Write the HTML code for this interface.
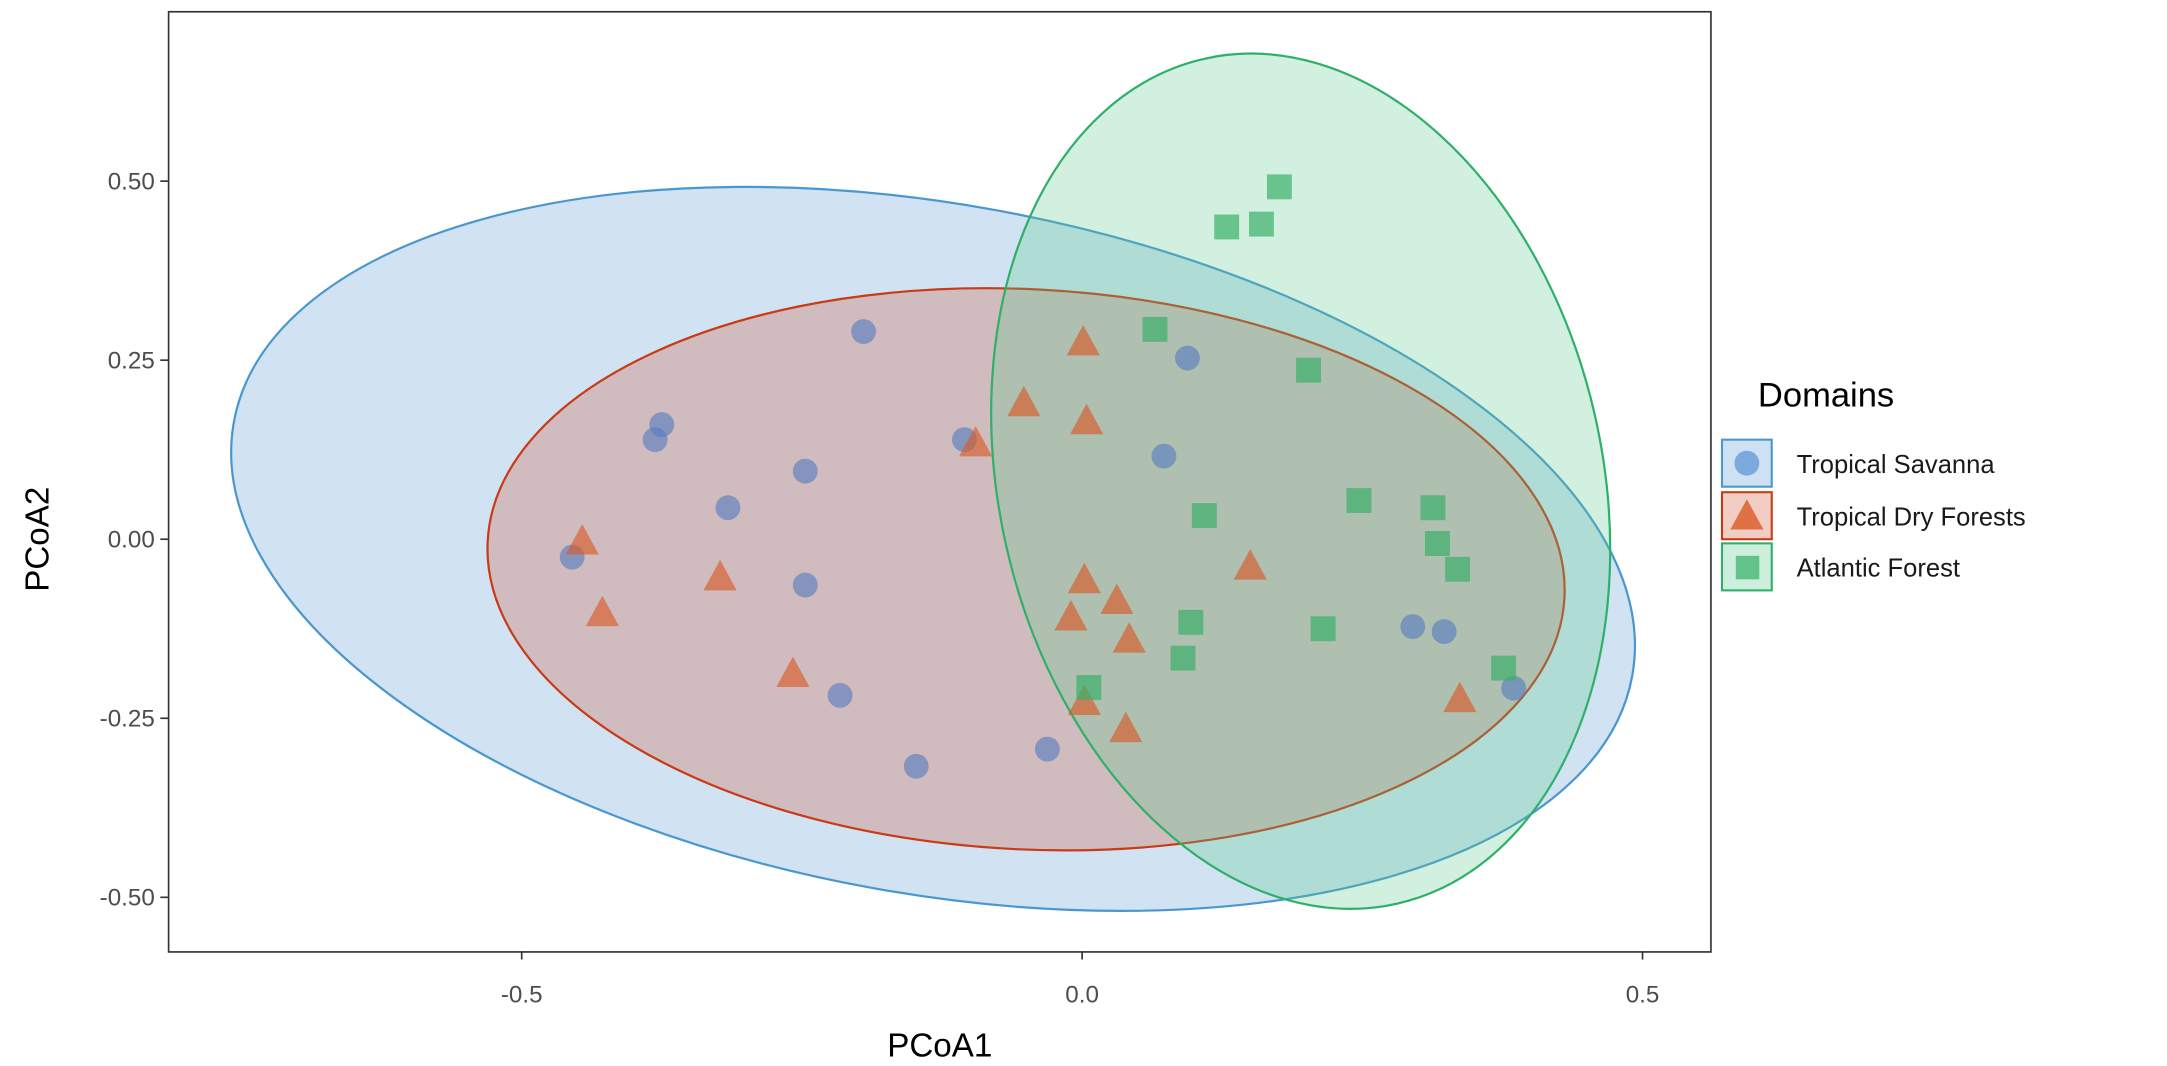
<!DOCTYPE html>
<html><head><meta charset="utf-8"><style>
html,body{margin:0;padding:0;background:#fff;}
svg{display:block;}
text{font-family:"Liberation Sans",Arial,sans-serif;}
</style></head><body>
<svg id="chart" width="2167" height="1066" viewBox="0 0 1568 771" preserveAspectRatio="none" xmlns="http://www.w3.org/2000/svg">
<rect width="1568" height="771" fill="#fff"/>
<g id="plot"></g>
<g id="axes"></g>
<g id="legend">
<text x="1272" y="294" font-size="25" fill="#000">Domains</text>
<g>
<rect x="1246" y="318" width="36" height="34" fill="rgba(91,155,213,0.3)" stroke="#4a97cf" stroke-width="1.5"/>
<circle cx="1264" cy="335" r="9" fill="rgba(80,140,210,0.65)"/>
<text x="1300" y="342" font-size="18.5" fill="#1a1a1a">Tropical Savanna</text></g>
<g>
<rect x="1246" y="356" width="36" height="34" fill="rgba(210,90,60,0.3)" stroke="#c93a15" stroke-width="1.5"/>
<polygon points="1264,361 1276,383 1252,383" fill="rgba(220,90,40,0.8)"/>
<text x="1300" y="380" font-size="18.5" fill="#1a1a1a">Tropical Dry Forests</text></g>
<g>
<rect x="1246" y="393" width="36" height="34" fill="rgba(90,200,140,0.3)" stroke="#2fb06a" stroke-width="1.5"/>
<rect x="1256" y="402" width="17" height="17" fill="rgba(60,180,110,0.75)"/>
<text x="1300" y="417" font-size="18.5" fill="#1a1a1a">Atlantic Forest</text></g>
</g>
</svg>
<script>
const savannaX=[-0.455,-0.381,-0.375,-0.316,-0.247,-0.247,-0.216,-0.195,-0.148,-0.105,-0.031,0.073,0.094,0.295,0.323,0.385];
const savannaY=[-0.025,0.139,0.160,0.044,0.095,-0.064,-0.218,0.290,-0.317,0.139,-0.293,0.116,0.253,-0.122,-0.129,-0.208];
const dryX=[-0.446,-0.428,-0.323,-0.258,-0.095,-0.052,0.001,0.004,0.002,-0.010,0.002,0.031,0.042,0.039,0.150,0.337];
const dryY=[-0.004,-0.104,-0.054,-0.189,0.133,0.189,0.274,0.164,-0.058,-0.110,-0.228,-0.087,-0.141,-0.266,-0.039,-0.224];
const atlX=[0.176,0.160,0.129,0.065,0.202,0.109,0.247,0.313,0.317,0.335,0.097,0.215,0.090,0.006,0.376];
const atlY=[0.492,0.440,0.436,0.293,0.236,0.033,0.054,0.044,-0.006,-0.042,-0.116,-0.125,-0.166,-0.207,-0.180];
const xTicks=[-0.5,0.0,0.5];
const xTickLabels=["-0.5","0.0","0.5"];
const yTicks=[0.5,0.25,0,-0.25,-0.5];
const yTickLabels=["0.50","0.25","0.00","-0.25","-0.50"];
// ellipses: center x, center y (data), semi-axes (data), rotation deg
const ellSavanna=[-0.133,-0.0135,0.634,0.481,10.3];
const ellDry=[-0.050,-0.042,0.481,0.391,3.0];
const ellAtl=[0.195,0.081,0.269,0.605,-13];

const NS="http://www.w3.org/2000/svg";
const X=v=>783+v*811;
const Y=v=>390-v*518;
const plot=document.getElementById('plot');
const axes=document.getElementById('axes');
function mk(tag,attrs,parent){const e=document.createElementNS(NS,tag);for(const k in attrs)e.setAttribute(k,attrs[k]);parent.appendChild(e);return e;}

function ell(p,fill,stroke,name){
  const e=mk('ellipse',{cx:X(p[0]),cy:Y(p[1]),rx:p[2]*811,ry:p[3]*518,fill:fill,stroke:stroke,'stroke-width':1.6,transform:`rotate(${p[4]} ${X(p[0])} ${Y(p[1])})`},plot);
  
  
}
ell(ellSavanna,'rgba(91,155,213,0.28)','#4a97cf','ellipse-savanna');
ell(ellDry,'rgba(205,85,55,0.28)','#c93a15','ellipse-dry-forests');
ell(ellAtl,'rgba(90,200,140,0.28)','#2fb06a','ellipse-atlantic-forest');

savannaX.forEach((v,i)=>{
  const c=mk('circle',{cx:X(v),cy:Y(savannaY[i]),r:9,fill:'rgba(85,125,190,0.62)'},plot);
  
  
});
dryX.forEach((v,i)=>{
  const cx=X(v),cy=Y(dryY[i]);
  const t=mk('polygon',{points:`${cx},${cy-13} ${cx+12},${cy+9} ${cx-12},${cy+9}`,fill:'rgba(215,90,40,0.65)'},plot);
  
  
});
atlX.forEach((v,i)=>{
  const s=mk('rect',{x:X(v)-9,y:Y(atlY[i])-9,width:18,height:18,fill:'rgba(60,175,105,0.7)'},plot);
  
  
});

const frame=mk('rect',{x:122,y:8.5,width:1116,height:680,fill:'none',stroke:'#333','stroke-width':1.2},axes);


xTicks.forEach((v,i)=>{
  mk('line',{x1:X(v),x2:X(v),y1:688,y2:694,stroke:'#333','stroke-width':1.2},axes);
  const t=mk('text',{x:X(v),y:725,'font-size':17.5,fill:'#4d4d4d','text-anchor':'middle'},axes);
  t.textContent=xTickLabels[i];
  
  
});
yTicks.forEach((v,i)=>{
  mk('line',{x1:116,x2:122,y1:Y(v),y2:Y(v),stroke:'#333','stroke-width':1.2},axes);
  const t=mk('text',{x:112,y:Y(v)+6,'font-size':17.5,fill:'#4d4d4d','text-anchor':'end'},axes);
  t.textContent=yTickLabels[i];
  
  
});
const xt=mk('text',{x:680,y:764,'font-size':24,fill:'#000','text-anchor':'middle'},axes);
xt.textContent='PCoA1';


const yt=mk('text',{x:0,y:0,'font-size':24,fill:'#000','text-anchor':'middle',transform:'translate(35,390) rotate(-90)'},axes);
yt.textContent='PCoA2';


</script>
</body></html>
